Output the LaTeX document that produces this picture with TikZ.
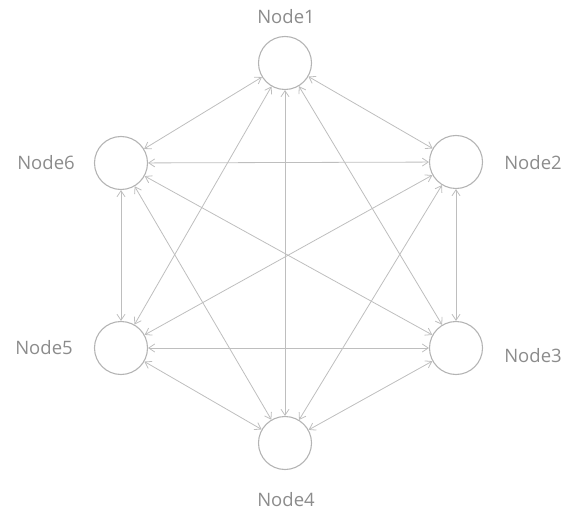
\documentclass[tikz,border=0pt]{standalone}
\usepackage{fontspec}
\setmainfont{Open Sans}
\usetikzlibrary{arrows.meta}
\definecolor{edgegray}{RGB}{190,190,190}
\definecolor{ringgray}{RGB}{180,180,180}
\definecolor{labelgray}{RGB}{140,140,140}
\tikzset{
  vertex/.style={circle, draw=ringgray, line width=1.1pt, minimum size=53pt, inner sep=0pt},
  vlabel/.style={text=labelgray, font=\fontsize{18.5}{18.5}\selectfont, inner sep=0pt},
  link/.style={draw=edgegray, line width=0.8pt,
    {Straight Barb[length=6pt,width=8pt]}-{Straight Barb[length=6pt,width=8pt]}},
}
\begin{document}
\begin{tikzpicture}[x=1pt,y=-1pt]
\useasboundingbox (0,0) rectangle (567,513);
% the six vertices of the hexagon
\node[vertex] (n1) at (285,63) {};
\node[vertex] (n2) at (456,162) {};
\node[vertex] (n3) at (456,348) {};
\node[vertex] (n4) at (285,443) {};
\node[vertex] (n5) at (121,348) {};
\node[vertex] (n6) at (121,163) {};
% their names
\node[vlabel] (l1) at (286,17) {Node1};
\node[vlabel] (l2) at (533,163) {Node2};
\node[vlabel] (l3) at (533,356) {Node3};
\node[vlabel] (l4) at (286,500) {Node4};
\node[vlabel] (l5) at (44,348) {Node5};
\node[vlabel] (l6) at (46,163) {Node6};
% every pair is joined both ways
\foreach \a/\b in {n1/n2,n1/n3,n1/n4,n1/n5,n1/n6,
                   n2/n3,n2/n4,n2/n5,n2/n6,
                   n3/n4,n3/n5,n3/n6,
                   n4/n5,n4/n6,
                   n5/n6}
  \draw[link] (\a) -- (\b);
\end{tikzpicture}
\end{document}
